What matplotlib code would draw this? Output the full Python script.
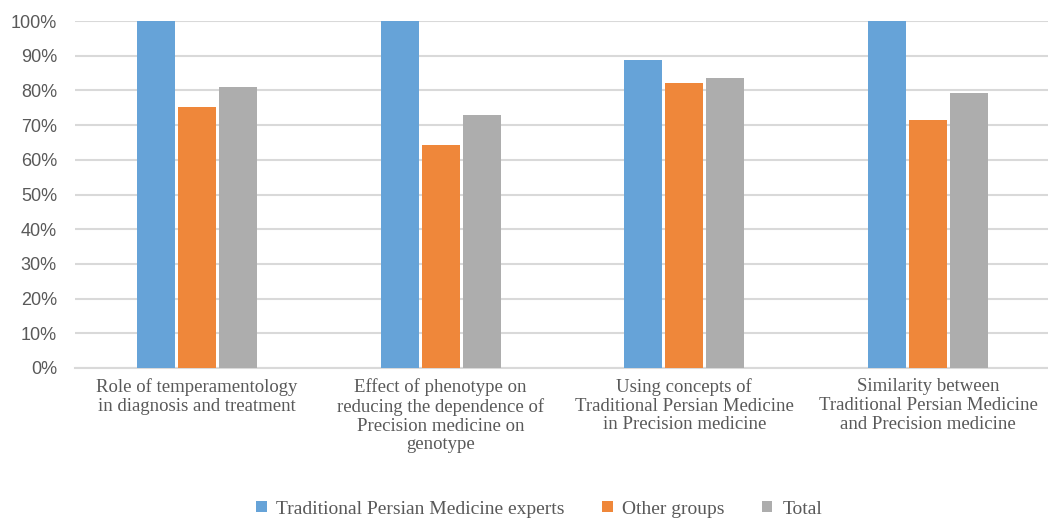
import matplotlib.pyplot as plt
import numpy as np
from matplotlib.ticker import PercentFormatter

categories = [
    "Role of temperamentology\nin diagnosis and treatment",
    "Effect of phenotype on\nreducing the dependence of\nPrecision medicine on\ngenotype",
    "Using concepts of\nTraditional Persian Medicine\nin Precision medicine",
    "Similarity between\nTraditional Persian Medicine\nand Precision medicine",
]
series_names = ["Traditional Persian Medicine experts", "Other groups", "Total"]
tpm_experts = [100, 100, 88.8, 100]
other_groups = [75.2, 64.3, 82.1, 71.5]
total = [81.0, 72.9, 83.7, 79.2]

colors = ["#66a3d8", "#ef873a", "#adadad"]
text_color = "#595959"

fig = plt.figure(figsize=(10.48, 5.18), dpi=100)
W, H = 1048, 518
ax = fig.add_axes([75 / W, (H - 368) / H, (1050 - 75) / W, 347 / H])

x = np.arange(len(categories))
width = 0.156
step = 0.168
for i, (vals, name) in enumerate(zip([tpm_experts, other_groups, total], series_names)):
    ax.bar(x + (i - 1) * step, vals, width, color=colors[i], label=name, zorder=3)

ax.set_xlim(-0.5, 3.5)
ax.set_ylim(0, 100)
ax.set_yticks(np.arange(0, 101, 10))
ax.yaxis.set_major_formatter(PercentFormatter(decimals=0))
ax.grid(axis="y", color="#d9d9d9", linewidth=1.5, zorder=0)
ax.set_axisbelow(True)

for s in ["top", "right", "left"]:
    ax.spines[s].set_visible(False)
ax.spines["bottom"].set_color("#d9d9d9")
ax.spines["bottom"].set_linewidth(1.5)

ax.set_xticks(x)
ax.set_xticklabels(categories, family="Liberation Serif", fontsize=13.5,
                   color=text_color, linespacing=1.15)
ax.tick_params(axis="x", length=0, pad=7)
ax.tick_params(axis="y", length=0, pad=13, labelsize=13, labelcolor=text_color)
for lbl in ax.get_yticklabels():
    lbl.set_family("Liberation Sans")

fig.legend(loc="center", bbox_to_anchor=(539 / W, 1 - 509 / H), ncol=3,
           frameon=False, prop={"family": "Liberation Serif", "size": 14},
           labelcolor=text_color, handlelength=0.55, handleheight=0.55,
           handletextpad=0.5, columnspacing=1.9)

fig.savefig("out.png", dpi=100)
